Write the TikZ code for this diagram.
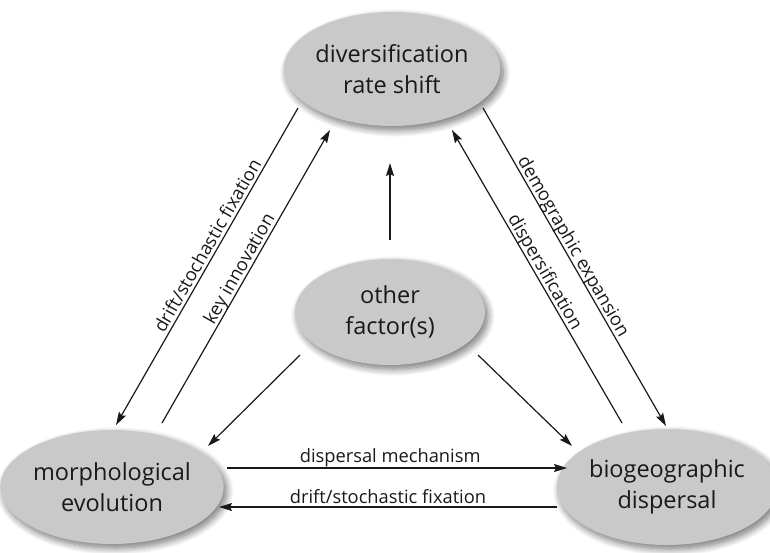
\documentclass[tikz,border=0pt]{standalone}
\usepackage{fontspec}
\setmainfont{Open Sans}
\usetikzlibrary{arrows.meta,shapes.geometric,shadows.blur,calc}
\begin{document}
\begin{tikzpicture}[x=1pt,y=-1pt,
  bub/.style={ellipse, fill=gray!42, draw=none, inner sep=0pt, align=center,
    text=black!90, font=\fontsize{23.5}{31}\selectfont,
    blur shadow={shadow xshift=3pt, shadow yshift=-4pt, shadow blur steps=12,
      shadow blur radius=7pt, shadow opacity=55}},
  conn/.style={line width=1.2pt, draw=black!90, -{Stealth[length=13pt,width=8pt,inset=2pt]}},
  lab/.style={font=\fontsize{18.3}{20}\selectfont, text=black!90, inner sep=3pt, text depth=0pt},
  hlab/.style={font=\fontsize{18.3}{20}\selectfont, text=black!90, inner sep=0pt, anchor=base},
]
\useasboundingbox (0,0) rectangle (770,552);

\node[bub, minimum width=208pt, minimum height=114pt] (div) at (392,69) {diversification\\rate shift};
\node[bub, minimum width=190pt, minimum height=106pt] (oth) at (390,312) {other\\factor(s)};
\node[bub, minimum width=202pt, minimum height=114pt] (mor) at (112,487) {morphological\\evolution};
\node[bub, minimum width=202pt, minimum height=116pt] (bio) at (667,487) {biogeographic\\dispersal};

% end points of the connectors, placed relative to the nodes
\coordinate (d1) at ($(div.center)+(-94,39)$);
\coordinate (d2) at ($(div.center)+(-62,61)$);
\coordinate (d3) at ($(div.center)+(91,39)$);
\coordinate (d4) at ($(div.center)+(60,61)$);
\coordinate (d5) at ($(div.center)+(-2,94)$);
\coordinate (m1) at ($(mor.center)+(4,-62)$);
\coordinate (m2) at ($(mor.center)+(50,-64)$);
\coordinate (m3) at ($(mor.center)+(96,-41)$);
\coordinate (m4) at ($(mor.center)+(115,-19)$);
\coordinate (m5) at ($(mor.center)+(107,20)$);
\coordinate (b1) at ($(bio.center)+(-1,-61)$);
\coordinate (b2) at ($(bio.center)+(-45,-64)$);
\coordinate (b3) at ($(bio.center)+(-95,-41)$);
\coordinate (b4) at ($(bio.center)+(-100,-19)$);
\coordinate (b5) at ($(bio.center)+(-110,20)$);
\coordinate (o1) at ($(oth.center)+(0,-72)$);
\coordinate (o2) at ($(oth.center)+(-90,43)$);
\coordinate (o3) at ($(oth.center)+(88,43)$);

\draw[conn] (d1) -- node[lab, sloped, above, pos=0.45] {drift/stochastic fixation} (m1);
\draw[conn] (m2) -- node[lab, sloped, above, pos=0.51] {key innovation} (d2);
\draw[conn] (d3) -- node[lab, sloped, above, pos=0.45] {demographic expansion} (b1);
\draw[conn] (b2) -- node[lab, sloped, above, pos=0.5] {dispersification} (d4);
\draw[conn] (o1) -- (d5);
\draw[conn] (o2) -- (m3);
\draw[conn] (o3) -- (b3);
\draw[conn] (m4) -- node[hlab, pos=0.48, yshift=6pt] {dispersal mechanism} (b4);
\draw[conn] (b5) -- node[hlab, pos=0.5, yshift=4pt] {drift/stochastic fixation} (m5);
\end{tikzpicture}
\end{document}
